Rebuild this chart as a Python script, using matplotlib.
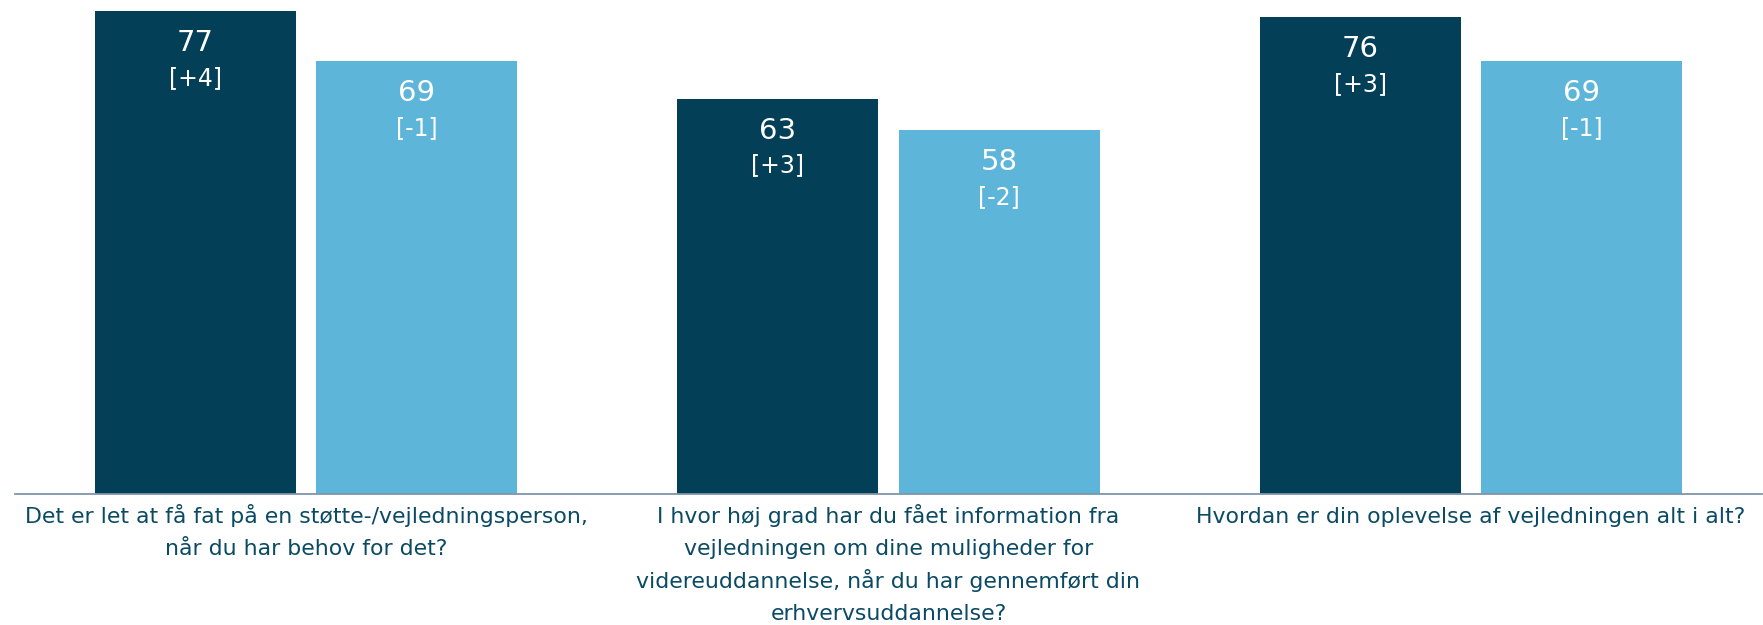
import matplotlib.pyplot as plt
import numpy as np

# Spørgsmål og scorer (mørk = skole, lys = landsgennemsnit)
questions = [
    "Det er let at få fat på en støtte-/vejledningsperson,\nnår du har behov for det?",
    "I hvor høj grad har du fået information fra\nvejledningen om dine muligheder for\nvidereuddannelse, når du har gennemført din\nerhvervsuddannelse?",
    "Hvordan er din oplevelse af vejledningen alt i alt?",
]
scores_dark = [77, 63, 76]
change_dark = ["[+4]", "[+3]", "[+3]"]
scores_light = [69, 58, 69]
change_light = ["[-1]", "[-2]", "[-1]"]

dark = "#033f57"
light = "#5eb5da"
textcol = "#0b4a64"

plt.rcParams['font.family'] = ['DejaVu Sans']

fig = plt.figure(figsize=(17.63, 6.25), dpi=100)
ax = fig.add_axes([15 / 1763, 131 / 625, 1747 / 1763, 494 / 625])

x = np.arange(len(questions))
w = 0.345
off = 0.19

b1 = ax.bar(x - off, scores_dark, width=w, color=dark)
b2 = ax.bar(x + off, scores_light, width=w, color=light)

for bars, vals, chg in [(b1, scores_dark, change_dark), (b2, scores_light, change_light)]:
    for rect, v, c in zip(bars, vals, chg):
        cx = rect.get_x() + rect.get_width() / 2
        ax.annotate(str(v), (cx, v), xytext=(0, -32), textcoords="offset pixels",
                    ha="center", va="center", color="white", fontsize=21)
        ax.annotate(c, (cx, v), xytext=(0, -67), textcoords="offset pixels",
                    ha="center", va="center", color="white", fontsize=17)

# kategoritekster, linje for linje så grundlinjerne flugter
for xi, q in zip(x, questions):
    for i, line in enumerate(q.split("\n")):
        ax.annotate(line, (xi, 0), xytext=(0, -29 - 32.3 * i), textcoords="offset pixels",
                    ha="center", va="baseline", color=textcol, fontsize=15.8)

ax.set_xlim(-0.5, 2.5)
ax.set_ylim(0, 78.7)
ax.set_xticks([])
ax.set_yticks([])
for s in ["top", "left", "right"]:
    ax.spines[s].set_visible(False)
ax.spines["bottom"].set_color("#7f95ab")
ax.spines["bottom"].set_linewidth(1.3)

fig.savefig("out.png", dpi=100)
